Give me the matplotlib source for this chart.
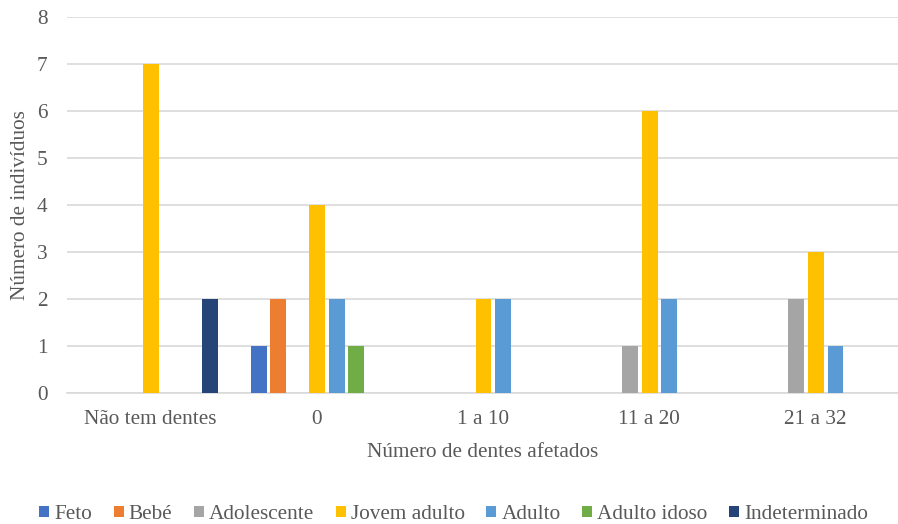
import numpy as np
import matplotlib.pyplot as plt

plt.rcParams['font.family'] = ['Liberation Serif', 'DejaVu Serif']

categorias = ['Não tem dentes', '0', '1 a 10', '11 a 20', '21 a 32']
grupos = ['Feto', 'Bebé', 'Adolescente', 'Jovem adulto', 'Adulto',
          'Adulto idoso', 'Indeterminado']
cores = ['#4472C4', '#ED7D31', '#A5A5A5', '#FFC000', '#5B9BD5',
         '#70AD47', '#264478']

feto = [0, 1, 0, 0, 0]
bebe = [0, 2, 0, 0, 0]
adolescente = [0, 0, 0, 1, 2]
jovem_adulto = [7, 4, 2, 6, 3]
adulto = [0, 2, 2, 2, 1]
adulto_idoso = [0, 1, 0, 0, 0]
indeterminado = [2, 0, 0, 0, 0]

series = [feto, bebe, adolescente, jovem_adulto, adulto, adulto_idoso,
          indeterminado]

texto = '#595959'
fs = 15.3
fig = plt.figure(figsize=(8.98, 5.24), dpi=100)
ax = fig.add_axes([67 / 898, 131 / 524, 831 / 898, 376 / 524])

x = np.arange(len(categorias))
passo = 0.1175
for i, (nome, vals, cor) in enumerate(zip(grupos, series, cores)):
    ax.bar(x + (i - 3) * passo + 0.006, vals, width=0.095, color=cor,
           label=nome, zorder=3)

ax.set_xlim(-0.5, len(categorias) - 0.5)
ax.set_ylim(0, 8)
ax.set_yticks(range(0, 9))
ax.set_xticks(x)
ax.set_xticklabels(categorias)
ax.grid(axis='y', color='#D9D9D9', lw=1.2, zorder=0)
for s in ['top', 'right', 'left']:
    ax.spines[s].set_visible(False)
ax.spines['bottom'].set_color('#D9D9D9')
ax.spines['bottom'].set_linewidth(1.2)
ax.tick_params(axis='both', length=0, labelsize=fs, colors=texto)
ax.tick_params(axis='y', pad=14)
ax.tick_params(axis='x', pad=12)

ax.set_xlabel('Número de dentes afetados', fontsize=fs, color=texto,
              labelpad=10)
ax.set_ylabel('Número de indivíduos', fontsize=fs, color=texto, labelpad=5)

fig.legend(loc='center', bbox_to_anchor=(0.505, 0.018), ncol=7,
           frameon=False, prop={'family': 'Liberation Serif', 'size': fs},
           handlelength=0.47, handleheight=0.47, handletextpad=0.25,
           columnspacing=1.0, labelcolor=texto)

fig.savefig('out.png', dpi=100)
